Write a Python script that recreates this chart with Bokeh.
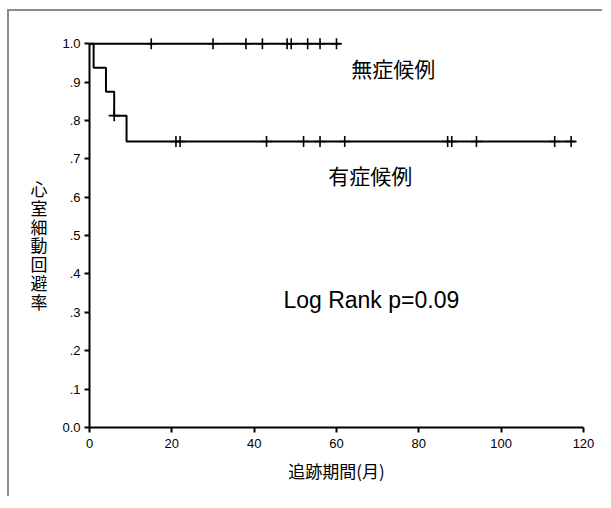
from bokeh.plotting import figure
from bokeh.models import Range1d, FixedTicker
from bokeh.core.properties import value
from bokeh.embed import file_html
from bokeh.resources import INLINE

# ---- data ----
x_ticks = [0, 20, 40, 60, 80, 100, 120]
y_ticks = [0, 0.1, 0.2, 0.3, 0.4, 0.5, 0.6, 0.7, 0.8, 0.9, 1]
y_tick_labels = ["0.0", ".1", ".2", ".3", ".4", ".5", ".6", ".7", ".8", ".9", "1.0"]

# asymptomatic group (無症候例)
asym_times = [0, 61]
asym_surv = [1.0, 1.0]
asym_censor_t = [15, 30, 38, 42, 48, 49, 53, 56, 60]
asym_censor_s = [1.0, 1.0, 1.0, 1.0, 1.0, 1.0, 1.0, 1.0, 1.0]

# symptomatic group (有症候例)
sym_times = [0, 1, 4, 6, 9, 118]
sym_surv = [1.0, 0.9375, 0.875, 0.8125, 0.745, 0.745]
sym_censor_t = [6, 21, 22, 43, 52, 56, 62, 87, 88, 94, 113, 117]
sym_censor_s = [0.8125, 0.745, 0.745, 0.745, 0.745, 0.745, 0.745, 0.745, 0.745, 0.745, 0.745, 0.745]

label_asym = "無症候例"
label_sym = "有症候例"
label_stat = "Log Rank p=0.09"
x_title = "追跡期間(月)"
y_title = "心室細動回避率"

CJK = "Noto Sans CJK JP"
LAT = "Liberation Sans"

p = figure(width=595, height=487, output_backend="svg", toolbar_location=None,
           x_range=Range1d(0, 120), y_range=Range1d(0, 1.05),
           min_border_left=80, min_border_right=21, min_border_top=13, min_border_bottom=71,
           margin=(9, 0, 0, 7),
           styles={"border-left": "2px solid #8c8c8c", "border-top": "2px solid #8c8c8c"})
p.outline_line_color = None
p.grid.visible = False
p.background_fill_color = "white"
p.border_fill_color = "white"

# steps
p.step(sym_times, sym_surv, mode="after", line_color="black", line_width=2)
p.step(asym_times, asym_surv, mode="after", line_color="black", line_width=2)
# censor marks
p.scatter(asym_censor_t, asym_censor_s, marker="cross", size=11, line_color="black", line_width=1.6)
p.scatter(sym_censor_t, sym_censor_s, marker="cross", size=11, line_color="black", line_width=1.6)

# annotations
p.text(x=[63.6], y=[0.9375], text=[label_asym], text_font=value(CJK), text_font_size="21px",
       text_align="left", text_baseline="middle", text_color="black")
p.text(x=[58.0], y=[0.659], text=[label_sym], text_font=value(CJK), text_font_size="21px",
       text_align="left", text_baseline="middle", text_color="black")
p.text(x=[47.1], y=[0.331], text=[label_stat], text_font=value(LAT), text_font_size="23px",
       text_align="left", text_baseline="middle", text_color="black")

# axes
for ax in (p.xaxis[0], p.yaxis[0]):
    ax.axis_line_width = 2
    ax.axis_line_color = "black"
    ax.major_tick_line_width = 2
    ax.major_tick_line_color = "black"
    ax.major_tick_out = 5
    ax.major_tick_in = 0
    ax.minor_tick_line_color = None
    ax.major_label_text_font = LAT
    ax.major_label_text_font_size = "13px"
    ax.major_label_text_color = "black"
    ax.axis_label_text_font = CJK
    ax.axis_label_text_font_style = "normal"
    ax.axis_label_text_color = "black"

p.xaxis[0].ticker = FixedTicker(ticks=x_ticks)
p.xaxis[0].bounds = (0, 120)
p.xaxis[0].axis_label = x_title
p.xaxis[0].axis_label_text_font_size = "17px"
p.xaxis[0].axis_label_standoff = 7
p.xaxis[0].major_label_standoff = 6

p.yaxis[0].ticker = FixedTicker(ticks=y_ticks)
p.yaxis[0].bounds = (0, 1)
p.yaxis[0].major_label_overrides = {t: l for t, l in zip(y_ticks, y_tick_labels)}
p.yaxis[0].axis_label = "\n\n" + "\n".join(list(y_title))
p.yaxis[0].axis_label_orientation = "horizontal"
p.yaxis[0].axis_label_text_font_size = "17px"
p.yaxis[0].axis_label_text_line_height = 0.75
p.yaxis[0].axis_label_standoff = 12
p.yaxis[0].major_label_standoff = 4

open("out.html", "w").write(file_html(p, INLINE))
